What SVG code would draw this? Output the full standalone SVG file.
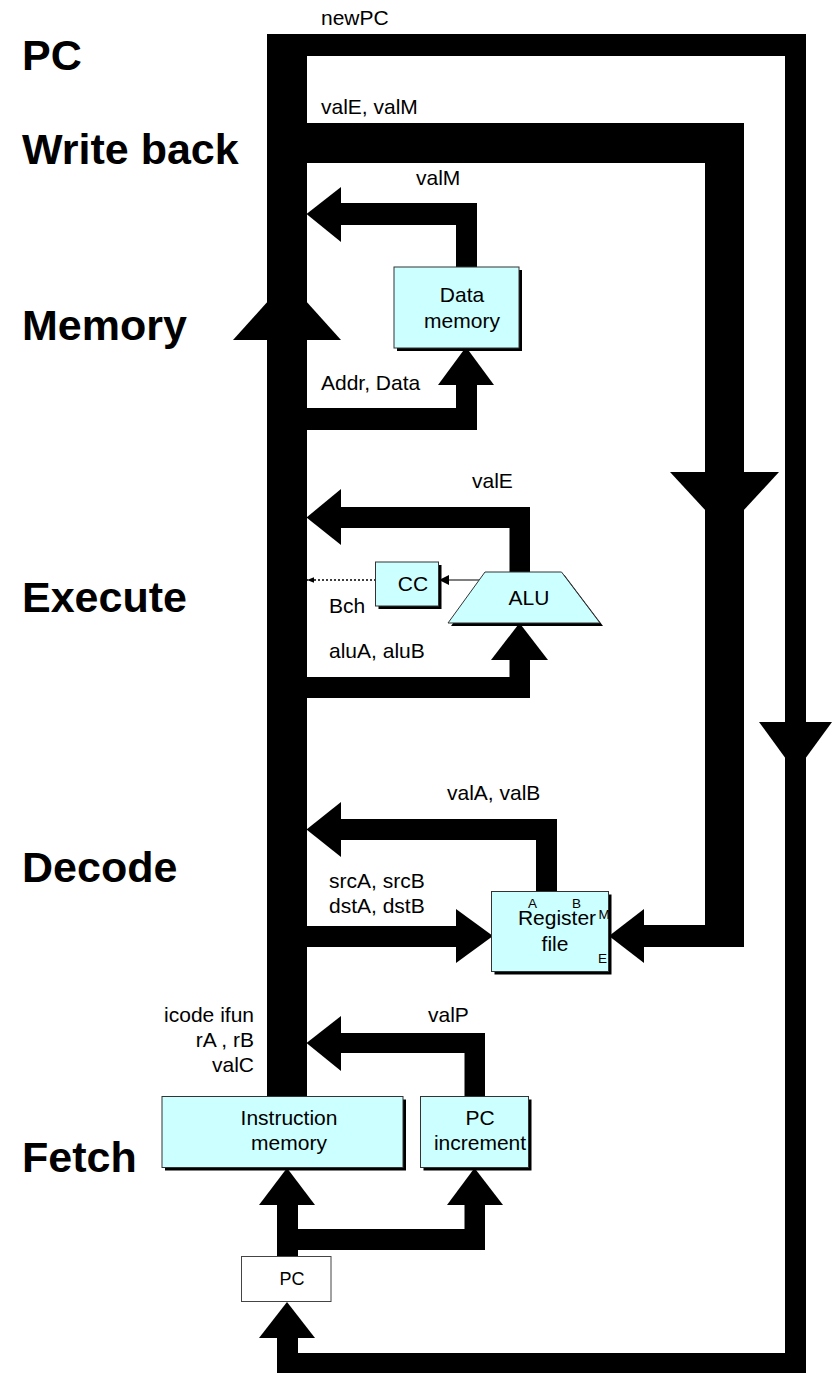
<svg xmlns="http://www.w3.org/2000/svg" width="832" height="1373" viewBox="0 0 832 1373">
<style>
text{font-family:"Liberation Sans",Arial,sans-serif;fill:#000}
.stage{font-size:43px;font-weight:bold}
.lbl{font-size:21px}
.sm{font-size:13.5px}
.box{fill:#ccffff;stroke:#333;stroke-width:1}
.shadow{fill:#000}
.bus{fill:#000}
</style>
<defs>
<marker id="ah" viewBox="0 0 10 10" refX="10" refY="5" markerWidth="10" markerHeight="10" markerUnits="userSpaceOnUse" orient="auto"><path d="M0,0L10,5L0,10z" fill="#000"/></marker>
<marker id="ahs" viewBox="0 0 10 10" refX="10" refY="5" markerWidth="7" markerHeight="7" markerUnits="userSpaceOnUse" orient="auto"><path d="M0,1L10,5L0,9z" fill="#000"/></marker>
</defs>
<rect width="832" height="1373" fill="#fff"/>
<g id="stage-labels">
<text class="stage" x="22" y="70">PC</text>
<text class="stage" x="22" y="164">Write back</text>
<text class="stage" x="22" y="340">Memory</text>
<text class="stage" x="22" y="612">Execute</text>
<text class="stage" x="22" y="882">Decode</text>
<text class="stage" x="22" y="1172">Fetch</text>
</g>
<g id="connectors" class="bus">
<!-- main bus -->
<rect x="267" y="34" width="40" height="1064"/>
<!-- newPC loop -->
<rect x="267" y="34" width="539" height="22"/>
<rect x="785" y="34" width="21" height="1339"/>
<rect x="277" y="1353" width="529" height="20"/>
<rect x="277" y="1337" width="21" height="20"/>
<polygon points="287,1302 259,1338 315,1338"/>
<polygon points="759,722 832,722 795.5,772"/>
<!-- valE, valM write back -->
<rect x="267" y="123" width="477" height="40"/>
<rect x="705" y="123" width="39" height="824"/>
<polygon points="670,472 779,472 724.5,531"/>
<rect x="643" y="925" width="62" height="22"/>
<polygon points="609,936 644,909 644,963"/>
<!-- memory up arrow on bus -->
<polygon points="287,280 233,340 341,340"/>
<!-- valM -->
<rect x="340" y="203" width="137" height="22"/>
<rect x="456" y="203" width="21" height="65"/>
<polygon points="306.5,214 341,187 341,242"/>
<!-- Addr, Data -->
<rect x="306" y="408" width="171" height="22"/>
<rect x="456" y="384" width="21" height="46"/>
<polygon points="466,347 438,385 494,385"/>
<!-- valE -->
<rect x="340" y="507" width="190" height="21"/>
<rect x="509.5" y="507" width="20.5" height="66"/>
<polygon points="306.5,517.5 341,489 341,545"/>
<!-- aluA, aluB -->
<rect x="306" y="677" width="224" height="21"/>
<rect x="509.5" y="659" width="20.5" height="39"/>
<polygon points="519.5,623 491,660 548,660"/>
<!-- valA, valB -->
<rect x="340" y="819" width="217" height="21"/>
<rect x="536" y="819" width="21" height="73"/>
<polygon points="306.5,829.5 341,802 341,857"/>
<!-- srcA srcB to register file -->
<rect x="306" y="926" width="151" height="21"/>
<polygon points="493,936 456,909 456,963"/>
<!-- valP -->
<rect x="340" y="1033" width="145" height="20"/>
<rect x="464.5" y="1033" width="20.5" height="64"/>
<polygon points="306.5,1043 341,1016 341,1071"/>
<!-- PC to instruction memory and PC increment -->
<rect x="277" y="1204" width="21" height="53"/>
<rect x="277" y="1229" width="208" height="21"/>
<rect x="464.5" y="1204" width="20.5" height="46"/>
<polygon points="287,1168 259,1205 315,1205"/>
<polygon points="474.5,1168 447,1205 503,1205"/>
<!-- CC / Bch -->
<line x1="376" y1="580" x2="307" y2="580" stroke="#000" stroke-width="1.5" stroke-dasharray="2,2" marker-end="url(#ahs)"/>
<line x1="479" y1="580" x2="439" y2="580" stroke="#000" stroke-width="1.2" marker-end="url(#ah)"/>
</g>
<g id="bus-labels">
<text class="lbl" x="321" y="25">newPC</text>
<text class="lbl" x="321" y="114">valE, valM</text>
<text class="lbl" x="416" y="185">valM</text>
<text class="lbl" x="321" y="390">Addr, Data</text>
<text class="lbl" x="472" y="488">valE</text>
<text class="lbl" x="329" y="613">Bch</text>
<text class="lbl" x="329" y="658">aluA, aluB</text>
<text class="lbl" x="447" y="800">valA, valB</text>
<text class="lbl" x="329" y="888">srcA, srcB</text>
<text class="lbl" x="329" y="913">dstA, dstB</text>
<text class="lbl" x="428" y="1022">valP</text>
<text class="lbl" x="254" y="1022" text-anchor="end">icode ifun</text>
<text class="lbl" x="254" y="1047" text-anchor="end">rA , rB</text>
<text class="lbl" x="254" y="1072" text-anchor="end">valC</text>
</g>
<g id="data-memory">
<rect class="shadow" x="397" y="270" width="125" height="81"/>
<rect class="box" x="394" y="267" width="125" height="81"/>
<text class="lbl" x="462" y="302" text-anchor="middle">Data</text>
<text class="lbl" x="462" y="328" text-anchor="middle">memory</text>
</g>
<g id="cc">
<rect class="shadow" x="378.5" y="565" width="63" height="44"/>
<rect class="box" x="375.5" y="562" width="63" height="44"/>
<text class="lbl" x="413" y="591" text-anchor="middle">CC</text>
</g>
<g id="alu">
<polygon class="shadow" points="488,575 564.5,575 603,626 451,626"/>
<polygon class="box" points="485,572 561.5,572 600,623 448,623"/>
<text class="lbl" x="529" y="605" text-anchor="middle">ALU</text>
</g>
<g id="register-file">
<rect class="shadow" x="494.5" y="894.5" width="117" height="80"/>
<rect class="box" x="491.5" y="891.5" width="117" height="80"/>
<text class="lbl" x="557" y="925" font-size="21.5" text-anchor="middle">Register</text>
<text class="lbl" x="555" y="951" text-anchor="middle">file</text>
<text class="sm" x="528" y="908">A</text>
<text class="sm" x="572" y="908">B</text>
<text class="sm" x="598.5" y="919">M</text>
<text class="sm" x="598" y="963">E</text>
</g>
<g id="instruction-memory">
<rect class="shadow" x="165" y="1099.5" width="241" height="71"/>
<rect class="box" x="162" y="1096.5" width="241" height="71"/>
<text class="lbl" x="289" y="1125" text-anchor="middle">Instruction</text>
<text class="lbl" x="289" y="1150" text-anchor="middle">memory</text>
</g>
<g id="pc-increment">
<rect class="shadow" x="423.5" y="1099.5" width="108" height="71"/>
<rect class="box" x="420.5" y="1096.5" width="108" height="71"/>
<text class="lbl" x="480" y="1125" text-anchor="middle">PC</text>
<text class="lbl" x="480" y="1150" text-anchor="middle">increment</text>
</g>
<g id="pc">
<rect x="241.5" y="1256.5" width="89.5" height="45" fill="#fff" stroke="#444" stroke-width="1"/>
<text x="292" y="1285" font-size="18" text-anchor="middle">PC</text>
</g>
</svg>
